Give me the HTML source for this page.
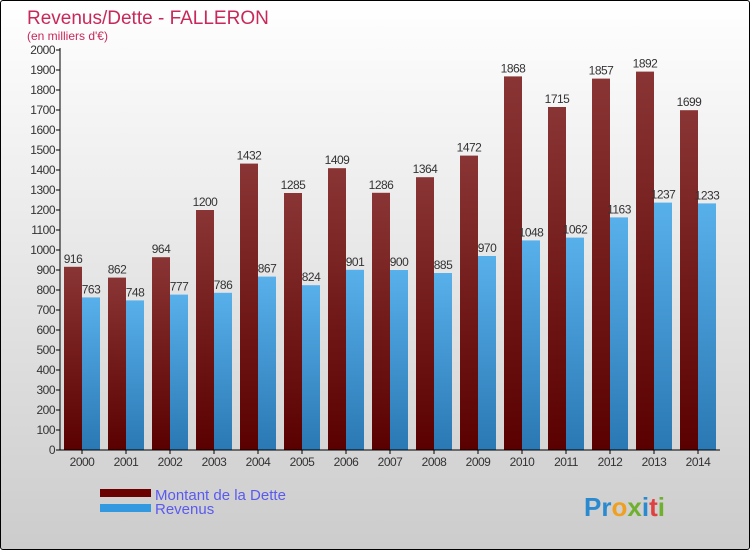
<!DOCTYPE html>
<html><head><meta charset="utf-8"><style>
body{margin:0;}
#wrap{width:748px;height:548px;border:1px solid #000;border-radius:3px;background:linear-gradient(#fff,#ccc);position:relative;overflow:hidden;font-family:"Liberation Sans",sans-serif;}
</style></head><body>
<div id="wrap">
<svg id="c" width="748" height="548"></svg>
</div>
<script>
const years=["2000","2001","2002","2003","2004","2005","2006","2007","2008","2009","2010","2011","2012","2013","2014"];
const dette=[916,862,964,1200,1432,1285,1409,1286,1364,1472,1868,1715,1857,1892,1699];
const revenus=[763,748,777,786,867,824,901,900,885,970,1048,1062,1163,1237,1233];
const yTicks=[0,100,200,300,400,500,600,700,800,900,1000,1100,1200,1300,1400,1500,1600,1700,1800,1900,2000];
const NS="http://www.w3.org/2000/svg";
const svg=document.getElementById('c');
const ox=-1,oy=-1;
function y(v){return 450-v*0.2+oy;}
function gx(i){return 82+44*i+ox;}
function el(t,a,p){const e=document.createElementNS(NS,t);for(const k in a)e.setAttribute(k,a[k]);(p||svg).appendChild(e);return e;}
const defs=el('defs',{});
const g1=el('linearGradient',{id:'gd',x1:0,y1:0,x2:0,y2:1},defs);
el('stop',{offset:'0','stop-color':'#8a3535'},g1);el('stop',{offset:'1','stop-color':'#5a0000'},g1);
const g2=el('linearGradient',{id:'gr',x1:0,y1:0,x2:0,y2:1},defs);
el('stop',{offset:'0','stop-color':'#58b0ea'},g2);el('stop',{offset:'1','stop-color':'#2a78b4'},g2);
let t=el('text',{x:26,y:23,fill:'#c8285a','font-size':19});t.textContent='Revenus/Dette - FALLERON';

t=el('text',{x:26,y:39,fill:'#c8285a','font-size':12});t.textContent="(en milliers d'€)";

yTicks.forEach(v=>{
  const l=el('line',{x1:56+ox,x2:60+ox,y1:y(v),y2:y(v),stroke:'#000'});
  
  const tx=el('text',{x:55+ox,y:y(v)+4,'text-anchor':'end','font-size':12,fill:'#333','letter-spacing':'-0.5'});
  tx.textContent=v;
  
});
years.forEach((yr,i)=>{
  const c=gx(i);
  const b1=el('rect',{x:c-18,y:y(dette[i]),width:18,height:450+oy-y(dette[i]),fill:'url(#gd)'});
  
  const b2=el('rect',{x:c,y:y(revenus[i]),width:18,height:450+oy-y(revenus[i]),fill:'url(#gr)'});
  
  const t1=el('text',{x:c-9,y:y(dette[i])-4,'text-anchor':'middle','font-size':12,fill:'#333','letter-spacing':'-0.5'});t1.textContent=dette[i];
  
  const t2=el('text',{x:c+9,y:y(revenus[i])-4,'text-anchor':'middle','font-size':12,fill:'#333','letter-spacing':'-0.5'});t2.textContent=revenus[i];
  
  const tk=el('line',{x1:c,x2:c,y1:450+oy,y2:454+oy,stroke:'#000'});
  
  const xl=el('text',{x:c,y:466+oy,'text-anchor':'middle','font-size':12,fill:'#333','letter-spacing':'-0.5'});xl.textContent=yr;
  
});
let a=el('line',{x1:60+ox,x2:60+ox,y1:48+oy,y2:450+oy,stroke:'#000'});

a=el('line',{x1:60+ox,x2:720+ox,y1:450+oy,y2:450+oy,stroke:'#000'});

let r=el('rect',{x:100+ox,y:489+oy,width:51,height:8,fill:'#6a0000'});

r=el('rect',{x:100+ox,y:504+oy,width:51,height:8,fill:'#3298e0'});

t=el('text',{x:155+ox,y:500+oy,'font-size':15,fill:'#5a5af0'});t.textContent='Montant de la Dette';

t=el('text',{x:155+ox,y:514+oy,'font-size':15,fill:'#5a5af0'});t.textContent='Revenus';

t=el('text',{x:583,y:515,'font-size':26,'font-weight':'bold',fill:'#3a9ad8'});
t.innerHTML='<tspan fill="#2a8ad0">Pr</tspan><tspan fill="#f0a020">o</tspan><tspan fill="#70b030">x</tspan><tspan fill="#2a8ad0">i</tspan><tspan fill="#e04040">t</tspan><tspan fill="#70b030">i</tspan>';

</script>
</body></html>
